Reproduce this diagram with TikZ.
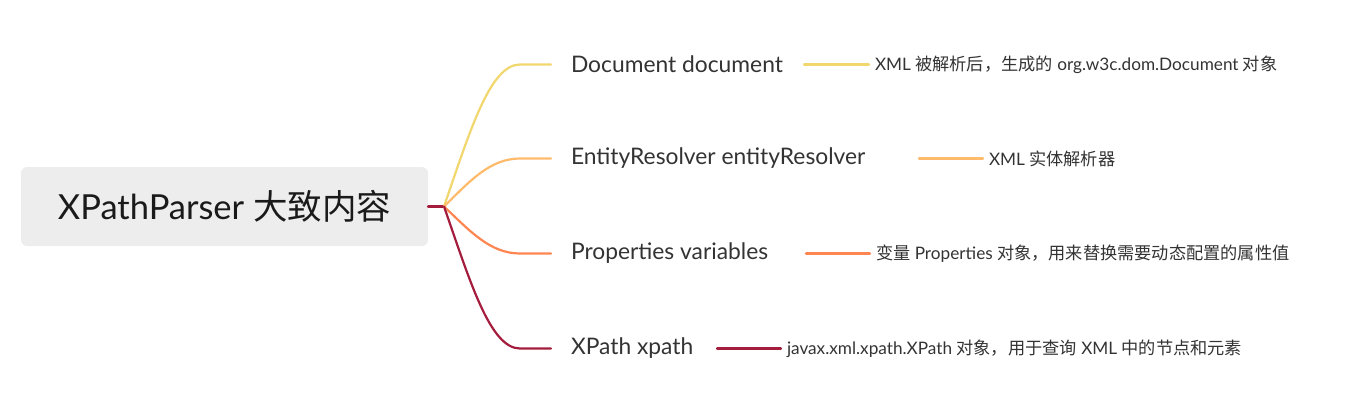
\documentclass[tikz,border=0pt]{standalone}
\usepackage{fontspec}
\setmainfont{Lato}
\newfontfamily\cjk{Noto Sans CJK SC}
\definecolor{rootgray}{HTML}{EDEDED}
\definecolor{cyellow}{HTML}{F2D66E}
\definecolor{clorange}{HTML}{FFBA6B}
\definecolor{corange}{HTML}{FF8551}
\definecolor{cdred}{HTML}{A41D3D}
\definecolor{txt}{HTML}{1A1A1A}
\definecolor{txtg}{HTML}{333333}
\begin{document}
\begin{tikzpicture}[x=1pt,y=-1pt,
  every node/.style={inner sep=0pt,outer sep=0pt},
  rootbox/.style={fill=rootgray,rounded corners=6pt,minimum width=407pt,minimum height=79pt,
    font=\fontsize{34.5}{34.5}\selectfont,text=txt},
  branch/.style={anchor=west,inner xsep=20pt,minimum height=30pt,font=\fontsize{22.8}{22.8}\selectfont,text=txtg},
  leaf/.style={anchor=west,inner xsep=6pt,minimum height=22pt,font=\fontsize{17.2}{17.2}\selectfont,text=txtg},
  conn/.style={line width=2.2pt,line cap=round}]
\useasboundingbox (0,0) rectangle (1346,410);
\node[rootbox] (root) at (224.5,206.5) {XPathParser {\cjk 大致内容}};
\coordinate (hub) at (444,206.5);
\draw[conn,cdred] (root.east) -- (hub);
% branches
\node[branch] (b1) at (551,64.5) {Document document};
\node[branch] (b2) at (551,158.5) {EntityResolver entityResolver};
\node[branch] (b3) at (551,253.5) {Properties variables};
\node[branch] (b4) at (551,348.5) {XPath xpath};
\draw[conn,cyellow] (hub) .. controls (470,131) and (490,64.5) .. (520,64.5) -- (b1.west);
\draw[conn,clorange] (hub) .. controls (470,181) and (490,158.5) .. (520,158.5) -- (b2.west);
\draw[conn,corange] (hub) .. controls (470,231) and (490,253.5) .. (520,253.5) -- (b3.west);
\draw[conn,cdred] (hub) .. controls (470,281) and (490,348.5) .. (520,348.5) -- (b4.west);
% leaves
\node[leaf] (l1) at (869,64.5) {XML {\cjk 被解析后，生成的} org.w3c.dom.Document {\cjk 对象}};
\node[leaf] (l2) at (983,158.5) {XML {\cjk 实体解析器}};
\node[leaf] (l3) at (870,253.5) {{\cjk 变量} Properties {\cjk 对象，用来替换需要动态配置的属性值}};
\node[leaf] (l4) at (781,348.5) {javax.xml.xpath.XPath {\cjk 对象，用于查询} XML {\cjk 中的节点和元素}};
\coordinate (s1) at (804,64.5);
\coordinate (s2) at (919,158.5);
\coordinate (s3) at (806,253.5);
\coordinate (s4) at (717,348.5);
\draw[conn,cyellow] (s1) -- (l1.west);
\draw[conn,clorange] (s2) -- (l2.west);
\draw[conn,corange] (s3) -- (l3.west);
\draw[conn,cdred] (s4) -- (l4.west);
\end{tikzpicture}
\end{document}
